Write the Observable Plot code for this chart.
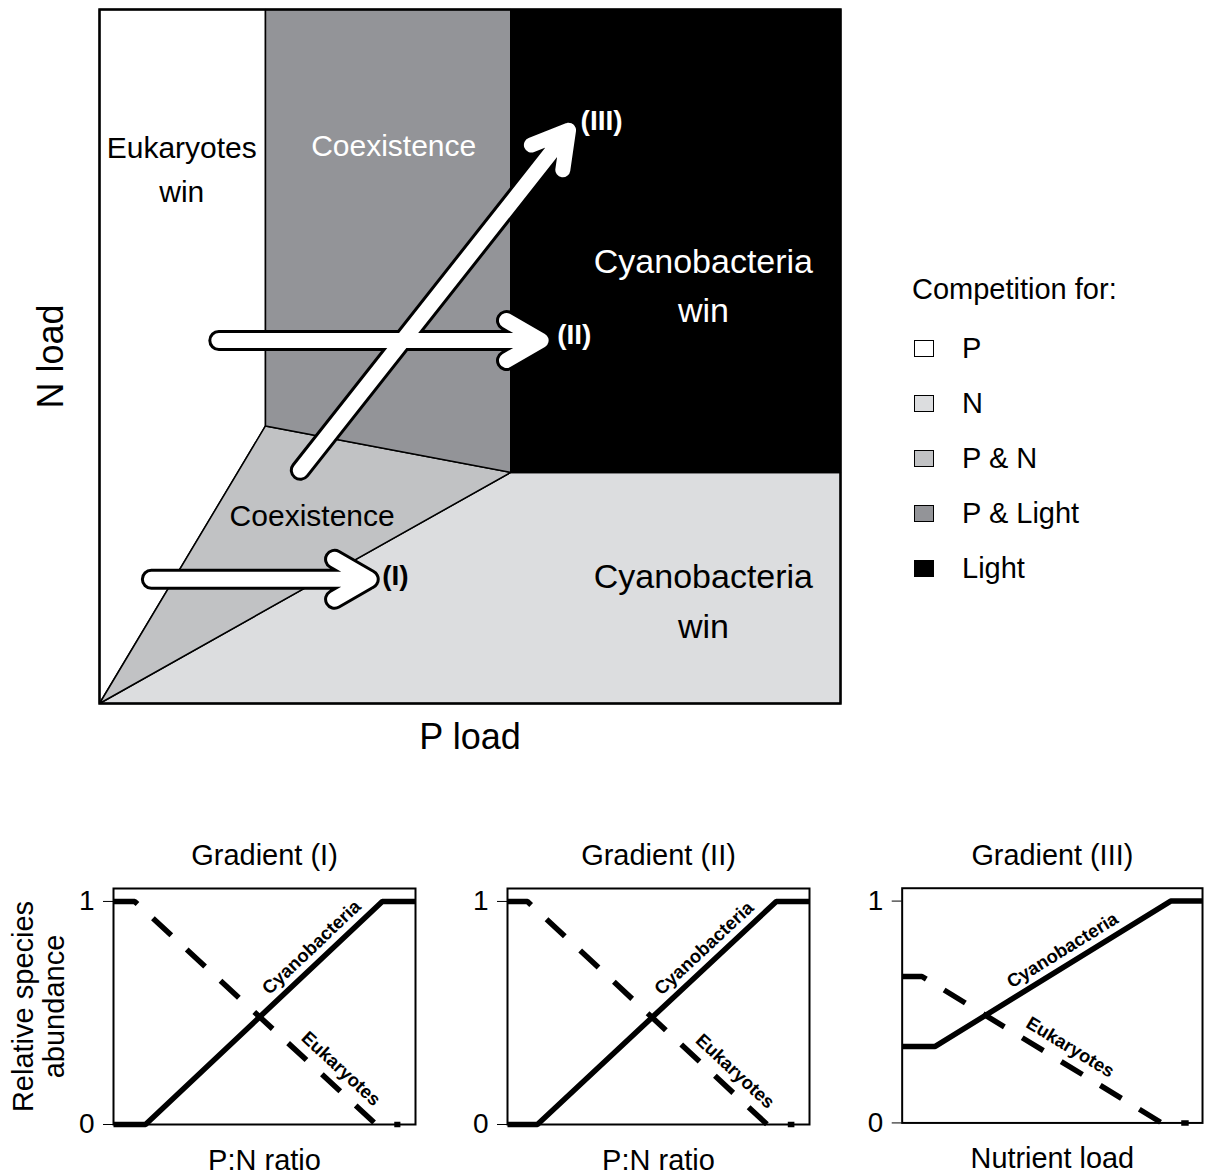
<!DOCTYPE html>
<html>
<head>
<meta charset="utf-8">
<script src="https://cdn.jsdelivr.net/npm/d3@7"></script>
<script src="https://cdn.jsdelivr.net/npm/@observablehq/plot@0.6"></script>
<style>
html, body { margin: 0; padding: 0; background: #fff; overflow: hidden; }
body { width: 1206px; height: 1175px; position: relative; font-family: "Liberation Sans", Arial, Helvetica, sans-serif; color: #000; }
.abs { position: absolute; }
svg { overflow: visible; }
</style>
</head>
<body>
<div id="main" class="abs" style="left:0;top:0"></div>
<div id="legend" class="abs" style="left:0;top:0"></div>
<div id="panels"></div>
<script>
// ---------- Main diagram: competition regions in (P load, N load) space, each scaled 0..1 ----------
const regionNames  = ["P", "N", "P & N", "P & Light", "Light"];
const regionColors = ["#ffffff", "#dcdddf", "#c1c2c4", "#939498", "#000000"];
const regionPLoad = [
  [0, 0, 0.224, 0.224],
  [0, 0.555, 1, 1],
  [0, 0.224, 0.555],
  [0.224, 0.224, 0.555, 0.555],
  [0.555, 0.555, 1, 1]
];
const regionNLoad = [
  [0, 1, 1, 0.40],
  [0, 0.333, 0.333, 0],
  [0, 0.40, 0.333],
  [0.40, 1, 1, 0.333],
  [0.333, 1, 1, 0.333]
];

// Region annotations
const regionLabels      = ["Eukaryotes\nwin", "Coexistence", "Cyanobacteria\nwin", "Coexistence", "Cyanobacteria\nwin"];
const regionLabelRegion = ["P", "P & Light", "Light", "P & N", "N"];
const regionLabelP      = [0.111, 0.397, 0.815, 0.287, 0.815];
const regionLabelN      = [0.775, 0.809, 0.608, 0.276, 0.153];

// Gradients (arrows)
const gradientNames  = ["(I)", "(II)", "(III)"];
const gradientStartP = [0.070, 0.161, 0.271];
const gradientStartN = [0.179, 0.523, 0.336];
const gradientEndP   = [0.364, 0.596, 0.633];
const gradientEndN   = [0.179, 0.523, 0.826];

// ---------- Bottom panels: relative species abundance along each gradient ----------
const panelTitles   = ["Gradient (I)", "Gradient (II)", "Gradient (III)"];
const panelXLabels  = ["P:N ratio", "P:N ratio", "Nutrient load"];
const abundanceTicks = [0, 1];
const cyanoX = [[0, 0.106, 0.89, 1], [0, 0.099, 0.89, 1], [0, 0.11, 0.894, 1]];
const cyanoY = [[0, 0, 1, 1], [0, 0, 1, 1], [0.345, 0.345, 1, 1]];
const eukX   = [[0, 0.07, 0.87, 0.95], [0, 0.066, 0.86, 0.95], [0, 0.066, 0.864, 0.954]];
const eukY   = [[1, 1, 0, 0], [1, 1, 0, 0], [0.66, 0.66, 0, 0]];
const speciesNames = ["Cyanobacteria", "Eukaryotes"];
const cyanoLabelX  = [0.69, 0.685, 0.56];
const eukLabelX    = [0.715, 0.715, 0.53];

const FONT = '"Liberation Sans", Arial, Helvetica, sans-serif';

// ---------- Build main diagram ----------
const regionMarks = regionNames.map((name, r) => {
  const rows = regionPLoad[r].map((p, i) => ({region: name, P: p, N: regionNLoad[r][i]}));
  return Plot.line(rows, {
    x: "P", y: "N", curve: "linear-closed",
    fill: regionColors[r], stroke: "black", strokeWidth: 1.5, strokeLinejoin: "miter"
  });
});

const gradRows = gradientNames.map((name, i) => ({
  name, P1: gradientStartP[i], N1: gradientStartN[i], P2: gradientEndP[i], N2: gradientEndN[i]
}));

const wing = 40;
const arrowOpts = (stroke, sw) => ({
  x1: "P1", y1: "N1", x2: "P2", y2: "N2",
  stroke, strokeWidth: sw, headAngle: 60, headLength: wing * 1.5 / sw,
  strokeLinecap: "round", strokeLinejoin: "round"
});

// labels at the arrow tips: white where the tip lies in the dark "Light" region
const lightIdx = regionNames.indexOf("Light");
const inLight = (p, n) => p > d3.min(regionPLoad[lightIdx]) && n > d3.min(regionNLoad[lightIdx]);
const gradLabelOffsets = [[13, -3], [16, -6], [12, -9]];
const gradLabelMarks = gradRows.map((row, i) =>
  Plot.text([row], {
    x: "P2", y: "N2", text: "name", textAnchor: "start",
    dx: gradLabelOffsets[i][0], dy: gradLabelOffsets[i][1],
    fontWeight: "bold", fontSize: 28, fill: inLight(row.P2, row.N2) ? "white" : "black"
  })
);

const regionLabelMarks = regionLabels.map((label, i) => {
  const dark = regionLabelRegion[i] === "Light" || regionLabelRegion[i] === "P & Light";
  const big = label.startsWith("Cyanobacteria");
  return Plot.text([{label, P: regionLabelP[i], N: regionLabelN[i]}], {
    x: "P", y: "N", text: "label",
    fill: dark ? "white" : "black",
    fontSize: big ? 34 : 30,
    lineHeight: big ? 1.45 : 1.48
  });
});

const main = Plot.plot({
  width: 850, height: 763,
  marginLeft: 99, marginRight: 10, marginTop: 9, marginBottom: 60,
  x: {domain: [0, 1], axis: null},
  y: {domain: [0, 1], axis: null},
  style: {fontFamily: FONT, background: "white", color: "black", overflow: "visible"},
  marks: [
    ...regionMarks,
    Plot.frame({stroke: "black", strokeWidth: 2.5}),
    Plot.arrow(gradRows, arrowOpts("black", 21)),
    Plot.arrow(gradRows, arrowOpts("white", 15)),
    ...gradLabelMarks,
    ...regionLabelMarks,
    Plot.text(["N load"], {text: d => d, frameAnchor: "left", textAnchor: "middle", lineAnchor: "middle", rotate: -90, dx: -48, fontSize: 36}),
    Plot.text(["P load"], {text: d => d, frameAnchor: "bottom", textAnchor: "middle", lineAnchor: "middle", dy: 34, fontSize: 36})
  ]
});
document.getElementById("main").appendChild(main);

// ---------- Legend ----------
const legend = d3.select("#legend");
legend.append("div")
  .attr("class", "abs")
  .style("left", "912px").style("top", (289 - 14) + "px")
  .style("font-size", "29px").style("line-height", "28px").style("white-space", "nowrap")
  .text("Competition for:");
regionNames.forEach((name, i) => {
  const cy = 348 + 55 * i;
  legend.append("div")
    .attr("class", "abs")
    .style("left", "914px").style("top", (cy - 8) + "px")
    .style("width", "20px").style("height", "17px")
    .style("box-sizing", "border-box")
    .style("border", "1.6px solid black")
    .style("background", regionColors[i]);
  legend.append("div")
    .attr("class", "abs")
    .style("left", "962px").style("top", (cy - 14) + "px")
    .style("font-size", "29px").style("line-height", "28px").style("white-space", "nowrap")
    .text(name);
});

// ---------- Bottom panels ----------
const frameLefts = [113, 507, 902];
const frameTop = 888, fw = 302, fh = 236, yMax = 1.058;

function panel(k) {
  const ml = k === 0 ? 113 : 60, mr = 4, mt = 50, mb = 51;
  const kx = fw, ky = fh / yMax;
  const cyF = d3.scaleLinear(cyanoX[k], cyanoY[k]);
  const eyF = d3.scaleLinear(eukX[k], eukY[k]);
  const ang = (xs, ys) => Math.atan2(-(ys[2] - ys[1]) * ky, (xs[2] - xs[1]) * kx) * 180 / Math.PI;
  const ca = ang(cyanoX[k], cyanoY[k]);
  const ea = ang(eukX[k], eukY[k]);
  const off = (a, d) => ({dx: d * Math.sin(a * Math.PI / 180), dy: -d * Math.cos(a * Math.PI / 180)});
  const cyRows = cyanoX[k].map((x, i) => ({x, y: cyanoY[k][i]}));
  const euRows = eukX[k].map((x, i) => ({x, y: eukY[k][i]}));
  const marks = [
    Plot.frame({stroke: "black", strokeWidth: 2}),
    Plot.line(cyRows, {x: "x", y: "y", stroke: "black", strokeWidth: 5.5, strokeLinecap: "butt", strokeLinejoin: "miter"}),
    Plot.line(euRows, {x: "x", y: "y", stroke: "black", strokeWidth: 5.5, strokeLinecap: "butt", strokeLinejoin: "miter", strokeDasharray: "25,21"}),
    Plot.text([{x: cyanoLabelX[k], y: cyF(cyanoLabelX[k]), t: speciesNames[0]}],
      {x: "x", y: "y", text: "t", rotate: ca, fontWeight: "bold", fontSize: 18.5, ...off(ca, 15)}),
    Plot.text([{x: eukLabelX[k], y: eyF(eukLabelX[k]), t: speciesNames[1]}],
      {x: "x", y: "y", text: "t", rotate: ea, fontWeight: "bold", fontSize: 18.5, ...off(ea, 17)}),
    Plot.text([panelTitles[k]], {text: d => d, frameAnchor: "top", textAnchor: "middle", lineAnchor: "middle", dy: -33, fontSize: 29}),
    Plot.text([panelXLabels[k]], {text: d => d, frameAnchor: "bottom", textAnchor: "middle", lineAnchor: "middle", dy: 36, fontSize: 29})
  ];
  if (k === 0) {
    marks.push(Plot.text(["Relative species\nabundance"], {text: d => d, frameAnchor: "left", textAnchor: "middle", lineAnchor: "middle", rotate: -90, dx: -75, fontSize: 29, lineHeight: 1.07}));
  }
  const p = Plot.plot({
    width: ml + fw + mr, height: mt + fh + mb,
    marginLeft: ml, marginRight: mr, marginTop: mt, marginBottom: mb,
    x: {domain: [0, 1], axis: null},
    y: {domain: [0, yMax], ticks: abundanceTicks, tickSize: 10, tickPadding: 9, tickFormat: d => String(d), label: null},
    style: {fontFamily: FONT, fontSize: "28px", background: "transparent", color: "black", overflow: "visible"},
    marks
  });
  const holder = document.createElement("div");
  holder.className = "abs";
  holder.style.left = (frameLefts[k] - ml) + "px";
  holder.style.top = (frameTop - mt) + "px";
  holder.appendChild(p);
  document.getElementById("panels").appendChild(holder);
}
[0, 1, 2].forEach(panel);
</script>
</body>
</html>
